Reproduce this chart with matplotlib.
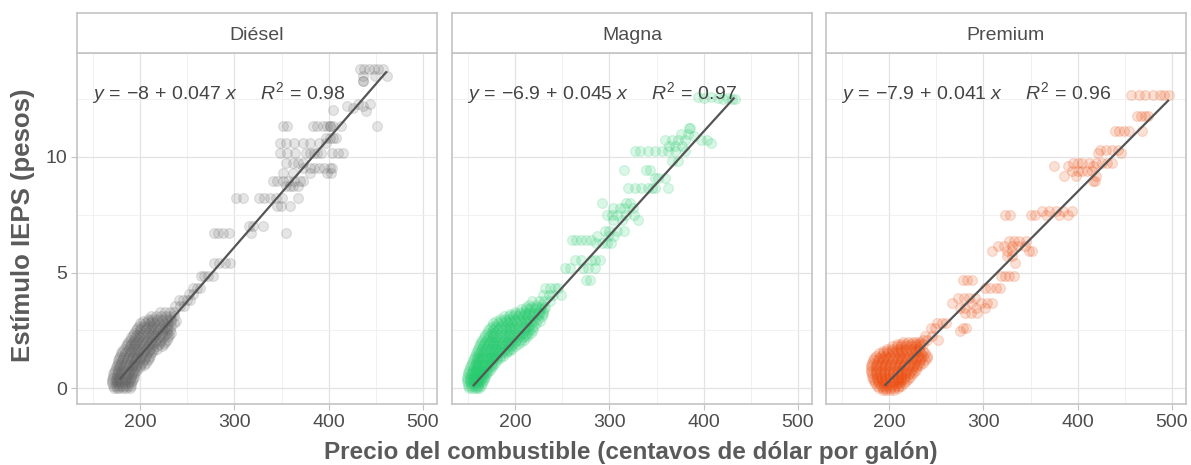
import numpy as np
import matplotlib
matplotlib.use("Agg")
import matplotlib.pyplot as plt

plt.rcParams["font.family"] = ["Liberation Sans", "DejaVu Sans"]
plt.rcParams["mathtext.fontset"] = "custom"
plt.rcParams["mathtext.rm"] = "Liberation Sans"
plt.rcParams["mathtext.it"] = "Liberation Sans:italic"

# ── data ─────────────────────────────────────────────────────────────────────
# Points are stored as rows: one stimulus level (pesos) and the prices
# (US cents / gallon) observed at that level.
diesel_levels = [
    13.8, 13.5, 13.3, 12.3, 12.2, 12.1, 12.05, 12.0, 11.33, 10.82, 10.6, 10.17,
    9.74, 9.52, 9.3, 8.95, 8.73, 8.22, 7.86, 7.0, 6.71, 5.41, 4.83, 4.33, 4.05,
    3.82, 3.54, 3.3,
    3.1, 3.0, 2.9, 2.8, 2.7, 2.6, 2.5, 2.4, 2.3, 2.2, 2.1, 2.0, 1.9, 1.8, 1.7,
    1.6, 1.5, 1.4, 1.3, 1.2, 1.1, 1.0, 0.9, 0.8, 0.7, 0.6, 0.5, 0.4, 0.3, 0.2,
    0.1, 0.0,
]
diesel_prices = [
    [433, 438, 443, 448, 452, 458],
    [437, 449, 462],
    [436, 437],
    [431, 444],
    [420, 436],
    [426],
    [405],
    [440],
    [352, 356, 383, 388, 394, 398, 401, 401, 405, 413, 451],
    [397, 401, 405, 408],
    [348, 355, 363, 373, 380, 390, 397],
    [348, 356, 364, 376, 380, 384, 388, 392, 404, 410, 415],
    [355, 362, 367, 373],
    [373, 380, 385, 390, 395, 401, 404],
    [352, 362, 380, 398, 403],
    [341, 345, 352, 357, 363, 370, 373],
    [355, 359, 362, 367],
    [302, 309, 326, 331, 338, 344, 350, 367],
    [345, 349, 359],
    [316, 320, 330],
    [278, 283, 288, 294, 318, 355],
    [278, 284, 290, 295],
    [265, 268, 272, 277],
    [256, 260, 263],
    [252, 256],
    [241, 245, 250, 253],
    [237, 242, 247],
    [221, 226, 232, 236],
    [212, 217, 222, 227, 232, 236],
    [208, 213, 218, 223, 228, 233],
    [203, 208, 213, 218, 223, 228, 233, 238],
    [200, 205, 210, 215, 220, 225, 230, 236],
    [199, 204, 208, 213, 218, 223, 228, 233],
    [197, 201, 206, 211, 216, 221, 226, 230],
    [196, 200, 205, 210, 214, 219, 224, 228, 232],
    [194, 199, 203, 208, 213, 218, 223, 228, 233],
    [192, 197, 201, 206, 211, 216, 221, 226, 231],
    [190, 195, 199, 204, 209, 214, 219, 224, 230],
    [189, 193, 198, 203, 207, 212, 217, 222, 228],
    [187, 192, 196, 201, 206, 211, 216, 221, 226],
    [186, 190, 195, 200, 204, 209, 214, 220, 225],
    [185, 189, 194, 198, 203, 208, 213, 218, 223],
    [183, 188, 192, 197, 201, 206, 210, 214, 218],
    [181, 186, 190, 195, 199, 204, 209, 214],
    [180, 184, 189, 193, 198, 203, 207, 212],
    [179, 183, 188, 192, 197, 201, 206, 210],
    [178, 182, 187, 191, 196, 200, 205, 209],
    [177, 181, 186, 190, 195, 199, 204, 208],
    [176, 180, 185, 189, 193, 198, 202, 206],
    [175, 179, 184, 188, 192, 196, 200, 204],
    [174, 178, 182, 187, 191, 196, 200],
    [173, 177, 181, 185, 189, 193, 197],
    [172, 176, 180, 184, 188, 192, 195],
    [171, 175, 179, 183, 187, 191, 194],
    [171, 175, 178, 182, 186, 190, 193],
    [170, 174, 178, 181, 185, 189, 192],
    [170, 174, 177, 181, 184, 188, 191],
    [170, 174, 177, 180, 184, 187, 190],
    [171, 174, 178, 181, 184, 187, 190],
    [172, 175, 178, 182, 185, 189],
]

magna_levels = [
    12.6, 12.55, 12.5, 11.25, 11.0, 10.9, 10.75, 10.6, 10.46, 10.25, 9.81, 9.45,
    9.09, 8.66, 8.01, 7.8, 7.5, 7.29, 6.78, 6.57, 6.42, 6.28, 5.56, 5.19, 4.69,
    4.33, 4.04, 3.75, 3.6,
    3.5, 3.4, 3.3, 3.2, 3.1, 3.0, 2.9, 2.8, 2.7, 2.6, 2.5, 2.4, 2.3, 2.2, 2.1,
    2.0, 1.9, 1.8, 1.7, 1.6, 1.5, 1.4, 1.3, 1.2, 1.1, 1.0, 0.9, 0.8, 0.7, 0.6,
    0.5, 0.4, 0.3, 0.2, 0.1, 0.0,
]
magna_prices = [
    [394, 408],
    [400, 415, 426],
    [421, 430, 433],
    [385, 386],
    [376, 383],
    [390],
    [359, 366, 373, 380, 397, 404],
    [408],
    [363, 370, 377],
    [327, 333, 341, 348, 356, 362, 370, 380],
    [366, 373],
    [315, 339, 343],
    [348, 352, 359],
    [320, 327, 334, 341, 345, 348, 362],
    [292, 318, 322],
    [304, 311, 315, 325],
    [297, 303, 308, 318, 326],
    [304, 313, 330],
    [295, 300, 308, 316],
    [287, 299, 305],
    [260, 265, 270, 275, 281],
    [286, 292, 298, 302],
    [264, 270, 280, 285, 290],
    [253, 258, 272, 277, 285],
    [275, 279],
    [232, 237, 242, 246],
    [230, 236, 240, 249],
    [218, 225, 231, 237],
    [215, 222, 228],
    [212, 217, 222, 227, 232],
    [206, 211, 216, 221, 226, 231],
    [200, 205, 210, 215, 220, 225, 230],
    [195, 200, 205, 210, 215, 220, 225, 230],
    [188, 193, 198, 203, 208, 213, 218, 223, 228],
    [184, 189, 194, 199, 204, 209, 214, 219, 224],
    [180, 185, 190, 195, 200, 205, 210, 215, 220, 226],
    [177, 182, 187, 192, 197, 202, 207, 212, 217, 222],
    [175, 180, 185, 190, 195, 200, 205, 210, 215, 220],
    [173, 178, 183, 188, 193, 198, 203, 208, 213, 218],
    [171, 176, 181, 186, 190, 195, 200, 205, 210, 215, 219],
    [170, 175, 179, 184, 189, 194, 199, 203, 208, 213, 217],
    [168, 173, 177, 182, 187, 192, 196, 201, 205, 210, 214],
    [167, 171, 176, 180, 185, 189, 194, 199, 203, 208, 212],
    [165, 170, 174, 179, 183, 188, 192, 197, 201, 205, 209],
    [164, 168, 173, 177, 182, 186, 191, 195, 200, 206],
    [163, 167, 172, 176, 180, 185, 189, 194, 198, 203],
    [162, 166, 170, 175, 179, 183, 187, 192, 196, 200],
    [161, 165, 169, 173, 177, 181, 185, 189, 193, 197],
    [160, 164, 168, 172, 176, 180, 184, 188, 191, 194],
    [158, 162, 166, 170, 174, 178, 182, 186, 190],
    [157, 161, 165, 169, 173, 176, 180, 184, 187],
    [156, 160, 164, 167, 171, 175, 178, 181, 184],
    [155, 159, 162, 166, 170, 173, 177, 181],
    [154, 158, 161, 165, 168, 172, 175, 179],
    [153, 157, 160, 164, 167, 170, 174, 177],
    [152, 156, 159, 162, 166, 169, 172, 175],
    [151, 155, 158, 161, 164, 167, 170, 173],
    [150, 154, 157, 160, 163, 166, 169, 171],
    [150, 153, 156, 159, 162, 165, 167, 169],
    [149, 152, 155, 158, 161, 164, 166, 168],
    [149, 152, 155, 158, 161, 164, 167],
    [149, 152, 155, 158, 161, 163, 166],
    [150, 153, 156, 159, 162, 165],
    [150, 153, 156, 159, 161, 164],
    [151, 154, 157, 160, 162],
]

premium_levels = [
    12.7, 11.76, 11.11, 10.3, 10.17, 9.74, 9.6, 9.38, 9.16, 8.95, 7.65, 7.5,
    6.35, 6.13, 5.92, 5.7, 5.41, 4.83, 4.69, 4.33, 3.9, 3.68, 3.46, 3.25, 2.81,
    2.6, 2.45, 2.25, 2.09,
    2.0, 1.9, 1.8, 1.7, 1.6, 1.5, 1.4, 1.3, 1.2, 1.1, 1.0, 0.9, 0.8, 0.7, 0.6,
    0.5, 0.4, 0.3, 0.2, 0.1, 0.0, -0.1,
]
premium_prices = [
    [457, 465, 472, 480, 487, 492, 497],
    [463, 467, 471, 475],
    [440, 444, 449, 454, 468],
    [424, 430, 437, 443],
    [422, 446],
    [395, 400, 405, 412, 420, 426, 431, 437],
    [375, 390, 416],
    [394, 400, 405, 410, 415],
    [386, 398, 420],
    [416, 418],
    [362, 370, 377, 385, 394],
    [323, 328, 351, 355, 366, 380, 390],
    [327, 333, 338, 345],
    [316, 322, 330, 337, 344],
    [309, 325, 330, 348, 352],
    [325, 330],
    [334],
    [319, 323, 327, 332],
    [278, 283, 288],
    [302, 307, 313, 318],
    [273, 279, 285, 291],
    [267, 287, 297, 304, 309],
    [275, 281, 292, 302],
    [280, 287, 293],
    [251, 256, 260],
    [244, 249, 278, 282],
    [275],
    [238, 245],
    [236, 240, 252],
    [215, 220, 225, 229, 233],
    [208, 213, 218, 223, 228, 232, 236],
    [203, 208, 213, 218, 223, 228, 233],
    [198, 203, 208, 213, 218, 223, 228, 232],
    [193, 198, 203, 208, 213, 218, 223, 228, 232, 236],
    [189, 194, 199, 204, 209, 214, 219, 224, 229, 234, 238],
    [186, 191, 196, 201, 206, 211, 216, 221, 226, 231, 236, 240],
    [184, 189, 194, 199, 204, 209, 214, 219, 224, 229, 234, 240],
    [183, 188, 193, 198, 203, 208, 213, 218, 223, 228, 233, 238],
    [182, 187, 192, 197, 202, 207, 212, 217, 222, 227, 232, 236],
    [181, 186, 191, 196, 201, 206, 211, 216, 221, 226, 230, 233],
    [181, 186, 191, 196, 201, 206, 210, 215, 220, 225, 230],
    [181, 186, 191, 196, 200, 205, 210, 214, 219, 224, 228],
    [181, 186, 190, 195, 200, 204, 209, 213, 218, 222, 226],
    [182, 186, 191, 195, 200, 204, 209, 213, 217, 221, 224],
    [182, 187, 191, 196, 200, 204, 209, 213, 217, 222],
    [183, 187, 192, 196, 200, 205, 209, 213, 216, 220],
    [184, 188, 192, 196, 201, 205, 209, 213, 218],
    [185, 189, 193, 197, 201, 205, 209, 212, 216],
    [187, 191, 195, 199, 203, 207, 210, 213],
    [189, 193, 197, 201, 205, 209],
    [193, 197, 201, 205],
]

fuels = ["Diésel", "Magna", "Premium"]
colors = ["#666666", "#25cc6e", "#ec4b0c"]
intercepts = [-8.0, -6.9, -7.9]
slopes = [0.047, 0.045, 0.041]
fit_start = [179, 156, 196]   # where each fitted line starts / ends (cents)
fit_end = [461, 432, 496]
eq_labels = [
    r"$y\,=\,{-}8\,+\,0.047\;x\quad\;\;R^2\,=\,0.98$",
    r"$y\,=\,{-}6.9\,+\,0.045\;x\quad\;\;R^2\,=\,0.97$",
    r"$y\,=\,{-}7.9\,+\,0.041\;x\quad\;\;R^2\,=\,0.96$",
]

levels = [diesel_levels, magna_levels, premium_levels]
prices = [diesel_prices, magna_prices, premium_prices]

# ── layout (figure fractions) ────────────────────────────────────────────────
W, H = 1191, 465
fig = plt.figure(figsize=(W / 100, H / 100), dpi=100)
panel_left_px = [77, 452, 826]
panel_w_px = 360
top_px, bottom_px = 53, 404
strip_top_px = 13

border_col = "#c4c4c4"
text_col = "#4d4d4d"

for i, fuel in enumerate(fuels):
    left = panel_left_px[i] / W
    width = panel_w_px / W
    ax = fig.add_axes([left, 1 - bottom_px / H, width, (bottom_px - top_px) / H])
    ax.set_xlim(133, 515)
    ax.set_ylim(-0.69, 14.5)
    ax.set_xticks([200, 300, 400, 500])
    ax.set_xticks([150, 250, 350, 450], minor=True)
    ax.set_yticks([0, 5, 10])
    ax.set_yticks([2.5, 7.5, 12.5], minor=True)
    ax.grid(True, which="major", color="#e3e3e3", linewidth=0.9)
    ax.grid(True, which="minor", color="#efefef", linewidth=0.6)
    ax.set_axisbelow(True)
    for sp in ax.spines.values():
        sp.set_color(border_col)
        sp.set_linewidth(1.2)
    ax.tick_params(which="major", length=4, color=border_col, labelcolor=text_col,
                   labelsize=14, pad=3)
    ax.tick_params(which="minor", length=0)
    if i > 0:
        ax.tick_params(axis="y", labelleft=False, length=0)

    x = np.concatenate([np.array(row, dtype=float) for row in prices[i]])
    y = np.concatenate([np.full(len(row), lev) for row, lev in zip(prices[i], levels[i])])
    ax.scatter(x, y, s=50, color=colors[i], alpha=0.17, linewidths=0.9,
               edgecolors=colors[i], zorder=2)
    line_x = np.array([fit_start[i], fit_end[i]], dtype=float)
    ax.plot(line_x, intercepts[i] + slopes[i] * line_x, color="#555555",
            linewidth=1.6, zorder=3)
    ax.text(0.042, 0.886, eq_labels[i], transform=ax.transAxes, ha="left",
            va="center", fontsize=14, color="#444444", zorder=4)

    # facet strip
    sax = fig.add_axes([left, 1 - top_px / H, width, (top_px - strip_top_px) / H])
    sax.set_xticks([])
    sax.set_yticks([])
    sax.set_facecolor("white")
    for sp in sax.spines.values():
        sp.set_color(border_col)
        sp.set_linewidth(1.2)
    sax.text(0.5, 0.45, fuel, ha="center", va="center", fontsize=14,
             color=text_col, transform=sax.transAxes)

# axis titles are centred on the panel area, as in ggplot
fig.text(631 / W, 0.027, "Precio del combustible (centavos de dólar por galón)",
         ha="center", va="center", fontsize=17.5, fontweight="bold", color="#5a5a5a")
fig.text(0.019, 1 - 225 / H, "Estímulo IEPS (pesos)", rotation=90, ha="center",
         va="center", fontsize=18.5, fontweight="bold", color="#5a5a5a")

fig.savefig("out.png", dpi=100, facecolor="white")
